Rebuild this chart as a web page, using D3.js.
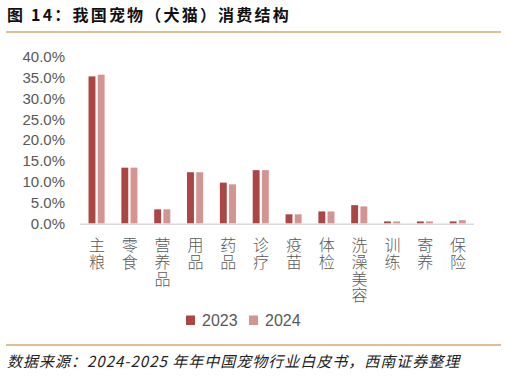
<!DOCTYPE html>
<html>
<head>
<meta charset="utf-8">
<script src="https://cdn.jsdelivr.net/npm/d3@7"></script>
<style>
  body { margin: 0; background: #fff; }
  svg { display: block; }
</style>
</head>
<body>
<div id="chart"></div>
<script>
// data
var categories = ["主粮", "零食", "营养品", "用品", "药品", "诊疗", "疫苗", "体检", "洗澡美容", "训练", "寄养", "保险"];
var series = ["2023", "2024"];
var values2023 = [0.353, 0.134, 0.034, 0.123, 0.098, 0.128, 0.022, 0.029, 0.044, 0.005, 0.005, 0.005];
var values2024 = [0.357, 0.134, 0.034, 0.123, 0.094, 0.128, 0.022, 0.029, 0.041, 0.005, 0.005, 0.008];
var yTicks = [0, 0.05, 0.10, 0.15, 0.20, 0.25, 0.30, 0.35, 0.40];
var colors = ["#ab4644", "#d49492"];

var W = 507, H = 377;
var svg = d3.select("#chart").append("svg").attr("width", W).attr("height", H);

// title + rules
svg.append("text")
  .attr("x", 7).attr("y", 21)
  .style("font-family", "'Noto Sans CJK SC', sans-serif")
  .style("font-size", "16px").style("font-weight", "bold")
  .style("letter-spacing", "2.2px")
  .attr("fill", "#111")
  .text("图 14：我国宠物（犬猫）消费结构");

svg.append("line").attr("x1", 6).attr("x2", 501).attr("y1", 32).attr("y2", 32)
  .attr("stroke", "#d6a86c").attr("stroke-width", 1.5);
svg.append("line").attr("x1", 6).attr("x2", 501).attr("y1", 345).attr("y2", 345)
  .attr("stroke", "#d6a86c").attr("stroke-width", 1.5);

// scales
var x0 = d3.scaleBand().domain(categories).range([80, 474]);
var x1 = d3.scaleBand().domain(series)
  .range([x0.bandwidth() * 0.26, x0.bandwidth() * 0.75])
  .paddingInner(0.25);
var y = d3.scaleLinear().domain([0, 0.4]).range([223.5, 56.8]);

// y axis labels
var yAxis = d3.axisLeft(y).tickValues(yTicks).tickFormat(d3.format(".1%")).tickSize(0).tickPadding(0);
var gy = svg.append("g").attr("transform", "translate(65,0)").call(yAxis);
gy.select(".domain").remove();
gy.selectAll("text")
  .style("font-family", "'Liberation Sans', Arial, sans-serif")
  .style("font-size", "15px")
  .attr("fill", "#595959");

// bars
var rows = categories.map(function(c, i) {
  return { cat: c, vals: [ { s: "2023", v: values2023[i] }, { s: "2024", v: values2024[i] } ] };
});

var groups = svg.selectAll(".grp")
  .data(rows)
  .enter().append("g")
  .attr("class", "grp")
  .attr("transform", function(d) { return "translate(" + x0(d.cat) + ",0)"; });

groups.selectAll("rect")
  .data(function(d) { return d.vals; })
  .enter().append("rect")
  .attr("x", function(d) { return x1(d.s); })
  .attr("y", function(d) { return y(d.v); })
  .attr("width", x1.bandwidth())
  .attr("height", function(d) { return y(0) - y(d.v); })
  .attr("fill", function(d, i) { return colors[i]; });

// x axis line
svg.append("line").attr("x1", 80).attr("x2", 474).attr("y1", 224.3).attr("y2", 224.3)
  .attr("stroke", "#d9d9d9").attr("stroke-width", 1.5);

// vertical category labels
svg.selectAll(".xl")
  .data(categories)
  .enter().append("text")
  .attr("class", "xl")
  .attr("x", function(c) { return x0(c) + x0.bandwidth() / 2 + 0.5; })
  .attr("y", 237)
  .style("writing-mode", "vertical-rl")
  .style("font-family", "'Noto Sans CJK SC', sans-serif")
  .style("font-size", "16px")
  .style("font-weight", "300")
  .style("letter-spacing", "0.8px")
  .attr("fill", "#595959")
  .text(function(c) { return c; });

// legend
var legend = svg.append("g");
series.forEach(function(s, i) {
  var lx = 186 + i * 63;
  legend.append("rect").attr("x", lx).attr("y", 315.5).attr("width", 9).attr("height", 9.5).attr("fill", colors[i]);
  legend.append("text").attr("x", lx + 16).attr("y", 326)
    .style("font-family", "'Liberation Sans', Arial, sans-serif")
    .style("font-size", "16px")
    .attr("fill", "#595959")
    .text(s);
});

// source note
svg.append("text")
  .attr("x", 7).attr("y", 367)
  .style("font-family", "'Noto Sans CJK SC', sans-serif")
  .style("font-size", "15px").style("font-style", "italic")
  .style("letter-spacing", "1px")
  .attr("fill", "#222")
  .text("数据来源：2024-2025 年年中国宠物行业白皮书，西南证券整理");
</script>
</body>
</html>
